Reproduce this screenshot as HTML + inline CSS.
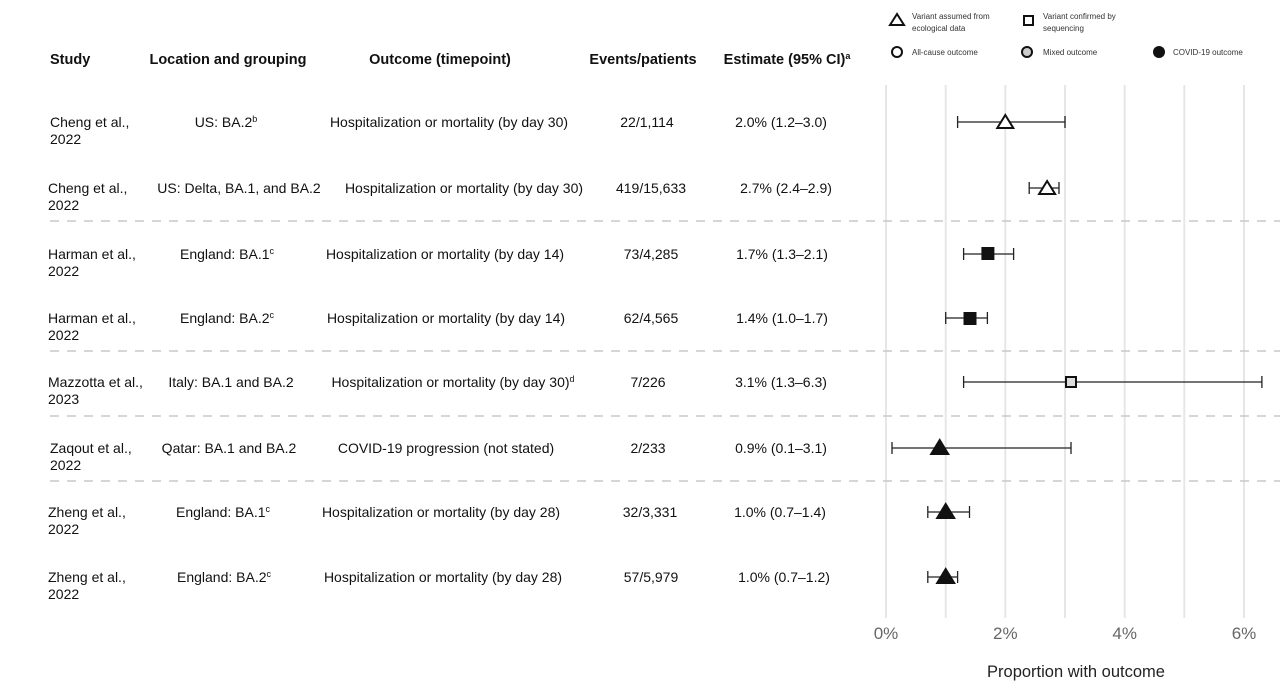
<!DOCTYPE html>
<html><head><meta charset="utf-8"><style>
body{margin:0;width:1280px;height:695px;background:#fff;overflow:hidden;font-family:"Liberation Sans",Arial,sans-serif;color:#111;}
.t{position:absolute;font-size:14px;white-space:nowrap;line-height:17px;}
.c{transform:translateX(-50%);}
.h{font-weight:bold;font-size:14.5px;}
sup{font-size:9px;vertical-align:5px;line-height:0;}
svg{position:absolute;left:0;top:0;}
</style></head><body>
<svg width="1280" height="695">
<g stroke="#e6e6e6" stroke-width="2">
<line x1="886" y1="85" x2="886" y2="618"/><line x1="945.7" y1="85" x2="945.7" y2="618"/>
<line x1="1005.3" y1="85" x2="1005.3" y2="618"/><line x1="1065" y1="85" x2="1065" y2="618"/>
<line x1="1124.7" y1="85" x2="1124.7" y2="618"/><line x1="1184.3" y1="85" x2="1184.3" y2="618"/>
<line x1="1244" y1="85" x2="1244" y2="618"/></g>
<g stroke="#c8c8c8" stroke-width="1.5" stroke-dasharray="9,8">
<line x1="50" y1="221" x2="1280" y2="221"/><line x1="50" y1="351" x2="1280" y2="351"/>
<line x1="50" y1="416" x2="1280" y2="416"/><line x1="50" y1="481" x2="1280" y2="481"/></g>
<g stroke="#222" stroke-width="1.3" fill="none">
<path d="M957.6 122H1065M957.6 116v12M1065 116v12"/>
<path d="M1029.2 188H1059M1029.2 182v12M1059 182v12"/>
<path d="M963.6 254H1013.6M963.6 248v12M1013.6 248v12"/>
<path d="M945.7 318H987.4M945.7 312v12M987.4 312v12"/>
<path d="M963.6 382H1261.9M963.6 376v12M1261.9 376v12"/>
<path d="M892 448H1071M892 442v12M1071 442v12"/>
<path d="M927.8 512H969.5M927.8 506v12M969.5 506v12"/>
<path d="M927.8 577H957.6M927.8 571v12M957.6 571v12"/>
</g>
<g stroke="#111" stroke-width="2">
<polygon points="1005.3,115 997.3,128 1013.3,128" fill="#fff"/>
<polygon points="1047.1,181 1039.1,194 1055.1,194" fill="#fff"/>
<rect x="982.4" y="248" width="11" height="11" fill="#111"/>
<rect x="964.5" y="313" width="11" height="11" fill="#111"/>
<rect x="1066" y="377" width="10" height="10" fill="#ddd"/>
<polygon points="939.7,440 931.2,454 948.2,454" fill="#111"/>
<polygon points="945.7,504 937.2,518 954.2,518" fill="#111"/>
<polygon points="945.7,569 937.2,583 954.2,583" fill="#111"/>
</g>
<g stroke="#111" stroke-width="2" fill="#fff">
<polygon points="897,14 890,25 904,25"/>
<rect x="1024" y="16" width="9" height="9"/>
<circle cx="897" cy="52" r="5"/>
<circle cx="1027" cy="52" r="5" fill="#ccc"/>
<circle cx="1159" cy="52" r="6" fill="#111" stroke="none"/>
</g>
<g font-family="Liberation Sans,Arial,sans-serif" font-size="8" fill="#333">
<text x="912" y="19">Variant assumed from</text><text x="912" y="31">ecological data</text>
<text x="1043" y="19">Variant confirmed by</text><text x="1043" y="31">sequencing</text>
<text x="912" y="55">All-cause outcome</text><text x="1043" y="55">Mixed outcome</text>
<text x="1173" y="55">COVID-19 outcome</text>
</g>
<g font-family="Liberation Sans,Arial,sans-serif" font-size="17" fill="#666" text-anchor="middle">
<text x="886" y="639">0%</text><text x="1005.3" y="639">2%</text><text x="1124.7" y="639">4%</text><text x="1244" y="639">6%</text>
</g>
<text x="1076" y="677" font-family="Liberation Sans,Arial,sans-serif" font-size="16.5" fill="#222" text-anchor="middle">Proportion with outcome</text>
</svg>
<div class="t h" style="left:50px;top:52px">Study</div>
<div class="t h c" style="left:228px;top:52px">Location and grouping</div>
<div class="t h c" style="left:440px;top:52px">Outcome (timepoint)</div>
<div class="t h c" style="left:643px;top:52px">Events/patients</div>
<div class="t h c" style="left:787px;top:52px">Estimate (95% CI)<sup>a</sup></div>

<div class="t" style="left:50px;top:114px">Cheng et al.,<br>2022</div>
<div class="t c" style="left:226px;top:114px">US: BA.2<sup>b</sup></div>
<div class="t c" style="left:449px;top:114px">Hospitalization or mortality (by day 30)</div>
<div class="t c" style="left:647px;top:114px">22/1,114</div>
<div class="t c" style="left:781px;top:114px">2.0% (1.2–3.0)</div>

<div class="t" style="left:48px;top:180px">Cheng et al.,<br>2022</div>
<div class="t c" style="left:239px;top:180px">US: Delta, BA.1, and BA.2</div>
<div class="t c" style="left:464px;top:180px">Hospitalization or mortality (by day 30)</div>
<div class="t c" style="left:651px;top:180px">419/15,633</div>
<div class="t c" style="left:786px;top:180px">2.7% (2.4–2.9)</div>

<div class="t" style="left:48px;top:246px">Harman et al.,<br>2022</div>
<div class="t c" style="left:227px;top:246px">England: BA.1<sup>c</sup></div>
<div class="t c" style="left:445px;top:246px">Hospitalization or mortality (by day 14)</div>
<div class="t c" style="left:651px;top:246px">73/4,285</div>
<div class="t c" style="left:782px;top:246px">1.7% (1.3–2.1)</div>

<div class="t" style="left:48px;top:310px">Harman et al.,<br>2022</div>
<div class="t c" style="left:227px;top:310px">England: BA.2<sup>c</sup></div>
<div class="t c" style="left:446px;top:310px">Hospitalization or mortality (by day 14)</div>
<div class="t c" style="left:651px;top:310px">62/4,565</div>
<div class="t c" style="left:782px;top:310px">1.4% (1.0–1.7)</div>

<div class="t" style="left:48px;top:374px">Mazzotta et al.,<br>2023</div>
<div class="t c" style="left:231px;top:374px">Italy: BA.1 and BA.2</div>
<div class="t c" style="left:453px;top:374px">Hospitalization or mortality (by day 30)<sup>d</sup></div>
<div class="t c" style="left:648px;top:374px">7/226</div>
<div class="t c" style="left:781px;top:374px">3.1% (1.3–6.3)</div>

<div class="t" style="left:50px;top:440px">Zaqout et al.,<br>2022</div>
<div class="t c" style="left:229px;top:440px">Qatar: BA.1 and BA.2</div>
<div class="t c" style="left:446px;top:440px">COVID-19 progression (not stated)</div>
<div class="t c" style="left:648px;top:440px">2/233</div>
<div class="t c" style="left:781px;top:440px">0.9% (0.1–3.1)</div>

<div class="t" style="left:48px;top:504px">Zheng et al.,<br>2022</div>
<div class="t c" style="left:223px;top:504px">England: BA.1<sup>c</sup></div>
<div class="t c" style="left:441px;top:504px">Hospitalization or mortality (by day 28)</div>
<div class="t c" style="left:650px;top:504px">32/3,331</div>
<div class="t c" style="left:780px;top:504px">1.0% (0.7–1.4)</div>

<div class="t" style="left:48px;top:569px">Zheng et al.,<br>2022</div>
<div class="t c" style="left:224px;top:569px">England: BA.2<sup>c</sup></div>
<div class="t c" style="left:443px;top:569px">Hospitalization or mortality (by day 28)</div>
<div class="t c" style="left:651px;top:569px">57/5,979</div>
<div class="t c" style="left:784px;top:569px">1.0% (0.7–1.2)</div>
</body></html>
